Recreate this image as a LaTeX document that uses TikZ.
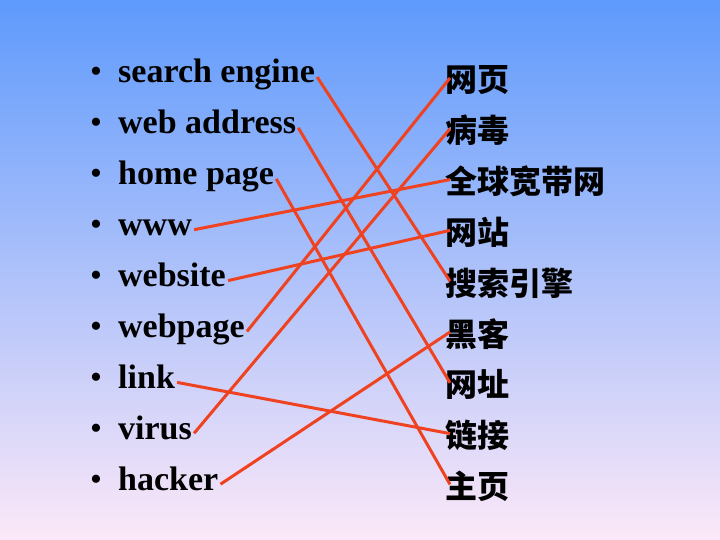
\documentclass[tikz,border=0pt]{standalone}
\usepackage{fontspec}
\setmainfont{Liberation Serif}
\newfontfamily\cjk{Noto Sans CJK SC}
\usepackage{tikz}
\usetikzlibrary{positioning,calc}

\definecolor{skytop}{RGB}{94,154,252}
\definecolor{skymid}{RGB}{148,196,248}
\definecolor{skybot}{RGB}{252,232,248}
\definecolor{lnred}{RGB}{238,66,32}

\tikzset{
  term/.style={anchor=base west, inner sep=0pt, font=\fontsize{34}{40}\selectfont\bfseries},
  zhterm/.style={anchor=base west, inner sep=0pt, font=\fontsize{32}{38}\selectfont\cjk\bfseries},
  dot/.style={anchor=base, inner sep=0pt, font=\fontsize{34}{40}\selectfont},
  match/.style={draw=lnred, line width=3pt},
}

\begin{document}
\begin{tikzpicture}[x=1pt,y=-1pt]
  \shade[top color=skytop, middle color=skymid, bottom color=skybot] (0,0) rectangle (720,540);

  % english column
  \foreach \i/\t in {1/search engine, 2/web address, 3/home page, 4/www, 5/website,
                     6/webpage, 7/link, 8/virus, 9/hacker}{
    \node[dot] (b\i) at (96, {83+50.9*(\i-1)}) {\textbullet};
    \node[term] (en\i) at (118, {83+50.9*(\i-1)}) {\t};
  }

  % chinese column
  \foreach \i/\t in {1/网页, 2/病毒, 3/全球宽带网, 4/网站, 5/搜索引擎,
                     6/黑客, 7/网址, 8/链接, 9/主页}{
    \node[zhterm] (zh\i) at (445, {92+50.8*(\i-1)}) {\t};
  }

  % matching lines
  \foreach \a/\b in {1/5, 2/7, 3/9, 4/3, 5/4, 6/1, 7/8, 8/2, 9/6}
    \draw[match] ([shift={(2,-6)}]en\a.base east) -- ([shift={(5,-14)}]zh\b.base west);
\end{tikzpicture}
\end{document}
